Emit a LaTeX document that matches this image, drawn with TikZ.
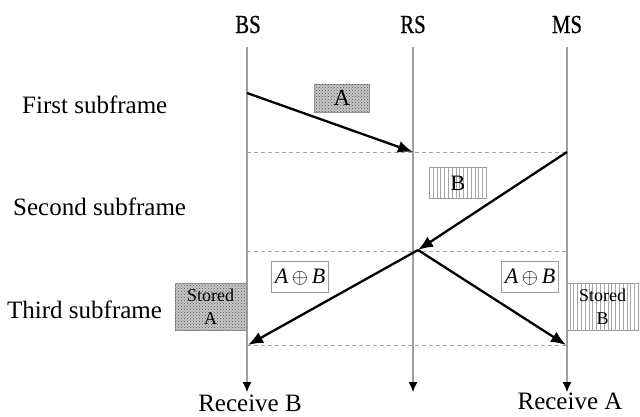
\documentclass[tikz,border=0pt]{standalone}
\usepackage{fontspec}
\setmainfont{Liberation Serif}
\newfontfamily\condfont{Liberation Serif}[FakeStretch=0.8,FakeBold=0.6]
\usetikzlibrary{arrows.meta,patterns,patterns.meta}

\begin{document}
\begin{tikzpicture}[x=1pt,y=-1pt,
  lifeline/.style={draw=gray!75, line width=1.2pt,
    -{Latex[length=10pt,width=9pt,color=black]}},
  slotline/.style={draw=gray!70, line width=0.8pt, dash pattern=on 4pt off 3pt},
  msgarrow/.style={draw=black, line width=2.3pt, -{Latex[length=15pt,width=12pt]}},
  rowlabel/.style={font=\fontsize{25}{30}\selectfont, anchor=base west, inner sep=0pt},
  stationlabel/.style={font=\condfont\fontsize{26}{30}\selectfont, anchor=base, inner sep=0pt},
  recvlabel/.style={font=\fontsize{25}{30}\selectfont, anchor=base, inner sep=0pt},
  packet/.style={draw=gray!80, line width=0.8pt, inner sep=0pt, align=center},
  dotted packet/.style={packet, fill=gray!45,
    postaction={pattern=crosshatch dots, pattern color=gray!70!black}},
  striped packet/.style={packet,
    postaction={pattern={Lines[angle=90,distance=3.8pt,line width=0.7pt]}, pattern color=gray!70}},
]
\useasboundingbox (0,0) rectangle (640,416);

% station names
\node[stationlabel] (bsl) at (248,33) {BS};
\node[stationlabel] (rsl) at (413,33) {RS};
\node[stationlabel] (msl) at (567,33) {MS};

% time lines of the three stations
\coordinate (bs0) at (247,47);  \coordinate (bs1) at (247,392);
\coordinate (rs0) at (413,47);  \coordinate (rs1) at (413,392);
\coordinate (ms0) at (567,47);  \coordinate (ms1) at (567,392);
\draw[lifeline] (bs0) -- (bs1);
\draw[lifeline] (rs0) -- (rs1);
\draw[lifeline] (ms0) -- (ms1);

% subframe boundaries
\coordinate (d1l) at (247,152); \coordinate (d1r) at (567,152);
\coordinate (d2l) at (247,251); \coordinate (d2r) at (567,251);
\coordinate (d3l) at (247,345); \coordinate (d3r) at (567,345);
\draw[slotline] (d1l) -- (d1r);
\draw[slotline] (d2l) -- (d2r);
\draw[slotline] (d3l) -- (d3r);

% subframe names
\node[rowlabel] (f1) at (22,113) {First subframe};
\node[rowlabel] (f2) at (13,215) {Second subframe};
\node[rowlabel] (f3) at (7,318) {Third subframe};

% transmissions
\coordinate (aS) at (247,93);
\coordinate (aE) at (413,152);
\coordinate (bS) at (567,152);
\coordinate (relay) at (418,250);
\coordinate (toBS) at (248,345);
\coordinate (toMS) at (566,345);
\draw[msgarrow] (aS) -- (aE);
\draw[msgarrow] (bS) -- (relay);
\draw[msgarrow] (relay) -- (toBS);
\draw[msgarrow] (relay) -- (toMS);

% packets
\node[dotted packet, minimum width=55pt, minimum height=28pt,
  font=\fontsize{23}{26}\selectfont] (pa) at (342,98) {A};
\node[striped packet, minimum width=57pt, minimum height=31pt,
  font=\fontsize{22}{26}\selectfont] (pb) at (458,183) {B};
\node[packet, fill=white, minimum width=57pt, minimum height=31pt,
  font=\fontsize{22}{26}\selectfont] (xl) at (300,277) {\textit{A}\,$\oplus$\,\textit{B}};
\node[packet, fill=white, minimum width=57pt, minimum height=31pt,
  font=\fontsize{22}{26}\selectfont] (xr) at (530,277) {\textit{A}\,$\oplus$\,\textit{B}};
\node[dotted packet, minimum width=71pt, minimum height=47pt,
  font=\fontsize{18}{23}\selectfont] (sa) at (210.5,306.5) {Stored\\A};
\node[striped packet, minimum width=71pt, minimum height=47pt,
  font=\fontsize{18}{23}\selectfont] (sb) at (602.5,306.5) {Stored\\B};

% results
\node[recvlabel] (rb) at (250,411) {Receive B};
\node[recvlabel] (ra) at (570,409) {Receive A};
\end{tikzpicture}
\end{document}
